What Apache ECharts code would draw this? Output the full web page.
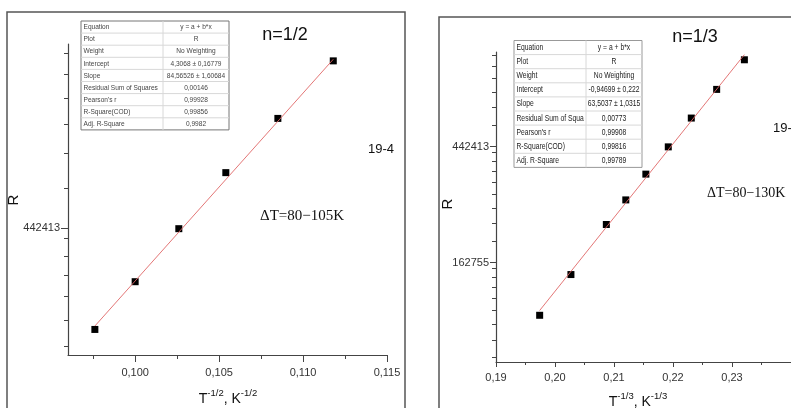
<!DOCTYPE html>
<html><head><meta charset="utf-8">
<script src="https://cdn.jsdelivr.net/npm/echarts@6/dist/echarts.min.js"></script>
<style>html,body{margin:0;padding:0;background:#fff;overflow:hidden}#c{width:791px;height:408px}</style>
</head><body><div id="c"></div>
<script>
// ---------- Left panel: n = 1/2 ----------
const leftX = [0.0976, 0.1000, 0.1026, 0.1054, 0.1085, 0.1118];
const leftR = [280700, 348000, 441800, 568600, 725800, 940400];
const leftFit = [4.3068, 84.56526];            // ln R = a + b*x
const leftXTicks = [0.100, 0.105, 0.110, 0.115];
const leftYTicks = [442413];
const leftTable = [
  ["Equation", "y = a + b*x"], ["Plot", "R"], ["Weight", "No Weighting"],
  ["Intercept", "4,3068 \u00b1 0,16779"], ["Slope", "84,56526 \u00b1 1,60684"],
  ["Residual Sum of Squares", "0,00146"], ["Pearson's r", "0,99928"],
  ["R-Square(COD)", "0,99856"], ["Adj. R-Square", "0,9982"]
];

// ---------- Right panel: n = 1/3 ----------
const rightX = [0.1974, 0.2027, 0.2087, 0.2120, 0.2154, 0.2192, 0.2231, 0.2274, 0.2321];
const rightR = [103500, 147000, 226200, 279600, 349100, 441500, 565800, 724300, 934700];
const rightFit = [-0.94699, 63.5037];
const rightXTicks = [0.19, 0.20, 0.21, 0.22, 0.23];
const rightYTicks = [162755, 442413];
const rightTable = [
  ["Equation", "y = a + b*x"], ["Plot", "R"], ["Weight", "No Weighting"],
  ["Intercept", "-0,94699 \u00b1 0,222"], ["Slope", "63,5037 \u00b1 1,0315"],
  ["Residual Sum of Squa", "0,00773"], ["Pearson's r", "0,99908"],
  ["R-Square(COD)", "0,99816"], ["Adj. R-Square", "0,99789"]
];

const AX = '#444', TXT = '#333', FONT = '"Liberation Sans", Arial, sans-serif';

function minorX(ticks) {
  const step = ticks[1] - ticks[0], out = [];
  for (let i = -1; i < ticks.length; i++) out.push(+(ticks[0] + step * (i + 0.5)).toFixed(5));
  return out;
}
function minorLn(min, max) {
  const out = [];
  for (let n = Math.floor(min) - 1; n <= Math.ceil(max); n++)
    for (let k = 1; k < 9; k++) {
      const f = 1 + 0.2 * k;
      if (f >= Math.E) break;
      const v = n + Math.log(f);
      if (v > min && v < max) out.push(v);
    }
  return out;
}

function xPair(gi, min, max, ticks, dec, majLen, margin) {
  return [
    { type: 'value', gridIndex: gi, min, max, position: 'bottom',
      axisLine: { show: true, onZero: false, lineStyle: { color: AX, width: 1.2 } },
      axisTick: { show: true, inside: false, length: majLen, customValues: ticks, lineStyle: { color: AX } },
      axisLabel: { show: true, customValues: ticks, margin, color: TXT, fontSize: 11, fontFamily: FONT,
        formatter: v => v.toFixed(dec).replace('.', ',') },
      splitLine: { show: false } },
    { type: 'value', gridIndex: gi, min, max, position: 'bottom',
      axisLine: { show: false },
      axisTick: { show: true, inside: false, length: Math.round(majLen / 2), customValues: minorX(ticks).filter(v => v > min && v < max), lineStyle: { color: AX } },
      axisLabel: { show: false }, splitLine: { show: false } }
  ];
}
function yPair(gi, min, max, ticksR, majLen, margin) {
  const maj = ticksR.map(v => Math.log(v));
  return [
    { type: 'value', gridIndex: gi, min, max, position: 'left',
      axisLine: { show: true, onZero: false, lineStyle: { color: AX, width: 1.2 } },
      axisTick: { show: true, inside: false, length: majLen, customValues: maj, lineStyle: { color: AX } },
      axisLabel: { show: true, customValues: maj, margin, color: TXT, fontSize: 11, fontFamily: FONT,
        formatter: v => String(Math.round(Math.exp(v))) },
      splitLine: { show: false } },
    { type: 'value', gridIndex: gi, min, max, position: 'left',
      axisLine: { show: false },
      axisTick: { show: true, inside: false, length: 4, customValues: minorLn(min, max), lineStyle: { color: AX } },
      axisLabel: { show: false }, splitLine: { show: false } }
  ];
}

function table(x0, y0, w, rowH, split, rows, fs, sx, border, txtCol) {
  const els = [];
  const h = rowH * rows.length;
  els.push({ type: 'rect', shape: { x: x0, y: y0, width: w, height: h }, style: { fill: '#fff', stroke: border, lineWidth: 1 }, z: 10 });
  for (let i = 1; i < rows.length; i++)
    els.push({ type: 'line', shape: { x1: x0, y1: y0 + i * rowH, x2: x0 + w, y2: y0 + i * rowH }, style: { stroke: '#d8d8d8', lineWidth: 1 }, z: 11 });
  els.push({ type: 'line', shape: { x1: split, y1: y0, x2: split, y2: y0 + h }, style: { stroke: '#d8d8d8', lineWidth: 1 }, z: 11 });
  rows.forEach((r, i) => {
    const cy = y0 + rowH * (i + 0.5);
    els.push({ type: 'text', x: x0 + 2.5, y: cy, scaleX: sx, z: 12,
      style: { text: r[0], font: fs + 'px ' + FONT, fill: txtCol, align: 'left', verticalAlign: 'middle', textAlign: 'left', textVerticalAlign: 'middle' } });
    els.push({ type: 'text', x: (split + x0 + w) / 2, y: cy, scaleX: sx, z: 12,
      style: { text: r[1], font: fs + 'px ' + FONT, fill: txtCol, align: 'center', verticalAlign: 'middle', textAlign: 'center', textVerticalAlign: 'middle' } });
  });
  return els;
}

function txt(x, y, text, size, family, align, extra) {
  return Object.assign({ type: 'text', x, y, z: 12,
    style: { text, font: size + 'px ' + family, fill: '#111', align, verticalAlign: 'middle', textAlign: align, textVerticalAlign: 'middle' } }, extra || {});
}
function axisName(x, y, n) {
  return { type: 'text', x, y, z: 12,
    style: { text: '{m|T}{s|' + n + '}{m|, K}{s|' + n + '}', align: 'center', verticalAlign: 'middle', textAlign: 'center', textVerticalAlign: 'middle',
      rich: { m: { fontSize: 14, fontFamily: FONT, fill: '#111', color: '#111', lineHeight: 18, verticalAlign: 'bottom' },
              s: { fontSize: 9.5, fontFamily: FONT, fill: '#111', color: '#111', lineHeight: 10, verticalAlign: 'top' } } } };
}

const lMinY = 12.43, lMaxY = 13.83, rMinY = 11.145, rMaxY = 13.815;
const lFitX = [Math.min(...leftX), Math.max(...leftX)];
const rFitX = [Math.min(...rightX), Math.max(...rightX)];

const option = {
  animation: false,
  backgroundColor: '#fff',
  grid: [
    { left: 68, top: 44, width: 319, height: 311 },
    { left: 496, top: 52, width: 315.5, height: 310 }
  ],
  xAxis: [
    ...xPair(0, 0.096, 0.115, leftXTicks, 3, 7, 12),
    ...xPair(1, 0.19, 0.24, rightXTicks, 2, 5, 10)
  ],
  yAxis: [
    ...yPair(0, lMinY, lMaxY, leftYTicks, 7, 8),
    ...yPair(1, rMinY, rMaxY, rightYTicks, 6, 7)
  ],
  series: [
    { type: 'line', xAxisIndex: 0, yAxisIndex: 0, symbol: 'none', silent: true,
      lineStyle: { color: '#e06666', width: 0.9 },
      data: lFitX.map(x => [x, leftFit[0] + leftFit[1] * x]) },
    { type: 'scatter', xAxisIndex: 0, yAxisIndex: 0, symbol: 'rect', symbolSize: 7,
      itemStyle: { color: '#000', opacity: 1 }, data: leftX.map((x, i) => [x, Math.log(leftR[i])]) },
    { type: 'line', xAxisIndex: 2, yAxisIndex: 2, symbol: 'none', silent: true,
      lineStyle: { color: '#e06666', width: 0.9 },
      data: rFitX.map(x => [x, rightFit[0] + rightFit[1] * x]) },
    { type: 'scatter', xAxisIndex: 2, yAxisIndex: 2, symbol: 'rect', symbolSize: 7,
      itemStyle: { color: '#000', opacity: 1 }, data: rightX.map((x, i) => [x, Math.log(rightR[i])]) }
  ],
  graphic: [
    { type: 'rect', shape: { x: 7, y: 12, width: 398, height: 420 }, style: { fill: 'none', stroke: '#555', lineWidth: 1.5 }, z: 5 },
    { type: 'rect', shape: { x: 439, y: 17, width: 400, height: 420 }, style: { fill: 'none', stroke: '#555', lineWidth: 1.5 }, z: 5 },
    ...table(81, 21, 148, 12.1, 163, leftTable, 8, 0.82, '#777', '#444'),
    ...table(514, 40.5, 128, 14.1, 586, rightTable, 9, 0.75, '#999', '#222'),
    txt(285, 35, 'n=1/2', 18, FONT, 'center'),
    txt(381, 149, '19-4', 13, FONT, 'center'),
    txt(260, 216, '\u0394T=80\u2212105K', 15, '"Liberation Serif", "Times New Roman", serif', 'left'),
    txt(13.5, 200, 'R', 15, FONT, 'center', { rotation: Math.PI / 2 }),
    axisName(228, 397, '-1/2'),
    txt(695, 37, 'n=1/3', 18, FONT, 'center'),
    txt(773, 128, '19-4', 13, FONT, 'left'),
    txt(707, 193, '\u0394T=80\u2212130K', 14, '"Liberation Serif", "Times New Roman", serif', 'left'),
    txt(447.5, 204, 'R', 15, FONT, 'center', { rotation: Math.PI / 2 }),
    axisName(638, 400, '-1/3')
  ]
};
const chart = echarts.init(document.getElementById('c'), null, { renderer: 'canvas' });
chart.setOption(option);
</script></body></html>
